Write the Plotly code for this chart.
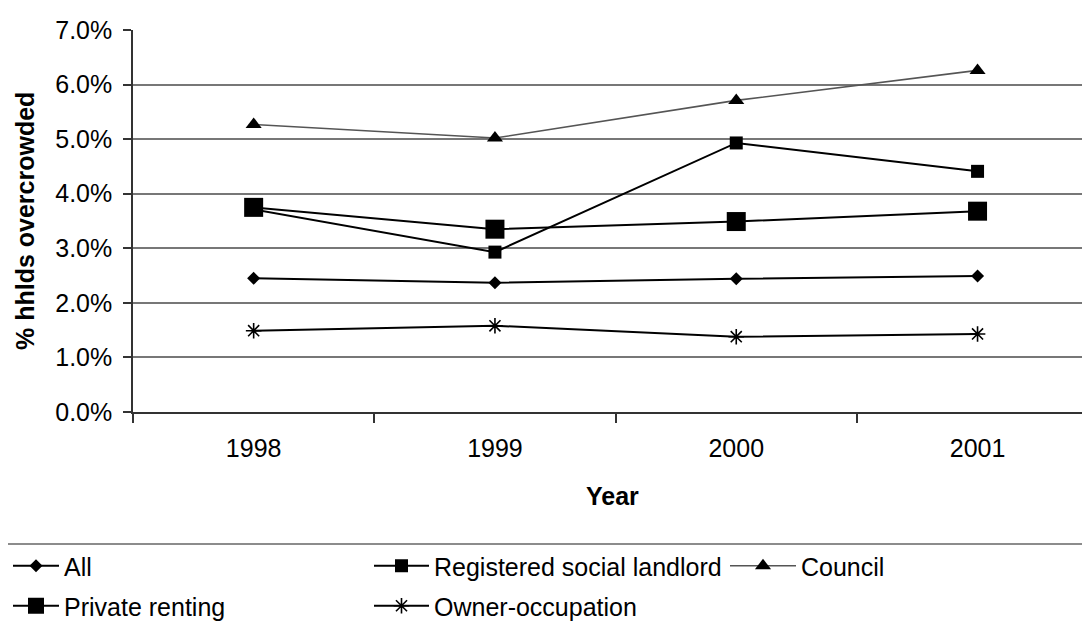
import plotly.graph_objects as go

years = ["1998", "1999", "2000", "2001"]
all_hh = [2.45, 2.37, 2.44, 2.49]
rsl = [3.71, 2.93, 4.93, 4.41]
council = [5.27, 5.02, 5.71, 6.26]
private = [3.75, 3.35, 3.49, 3.68]
owner = [1.49, 1.58, 1.38, 1.43]

y_ticks = [0, 1, 2, 3, 4, 5, 6, 7]

FONT = "Liberation Sans, Arial, sans-serif"
# the page body adds an 8px offset; figure is sized to end at the window edge
OFF = 8
W, H = 1090 - OFF, 628 - OFF
L, R, T, B = 133 - OFF, 0, 30 - OFF, 216
PW = W - L - R
PH = H - T - B

series = [
    ("All", all_hh, "#000000", 2, dict(symbol="diamond", size=10, color="#000000"), "legend"),
    ("Registered social landlord", rsl, "#000000", 2, dict(symbol="square", size=13, color="#000000"), "legend2"),
    ("Council", council, "#555555", 1.6, dict(symbol="triangle-up", size=14, color="#000000"), "legend3"),
    ("Private renting", private, "#000000", 2, dict(symbol="square", size=19, color="#000000"), "legend4"),
    ("Owner-occupation", owner, "#000000", 2,
     dict(symbol="asterisk-open", size=13, color="#000000", line=dict(color="#000000", width=1.6)), "legend5"),
]

fig = go.Figure()
for name, vals, lc, lw, mk, lg in series:
    fig.add_trace(go.Scatter(
        x=years, y=[v / 100 for v in vals], name=name, mode="lines+markers",
        line=dict(color=lc, width=lw), marker=mk, legend=lg,
    ))

cat_w = 241.3
x_end = -0.5 + PW / cat_w

def px_x(x):  # figure px -> paper x
    return (x - L) / PW

def px_y(y):  # figure px -> paper y
    return 1 - (y - T) / PH

fig.update_layout(
    width=W, height=H, showlegend=True,
    margin=dict(l=L, r=R, t=T, b=B, autoexpand=False),
    paper_bgcolor="white", plot_bgcolor="white",
    font=dict(family=FONT, size=25, color="#000000"),
    xaxis=dict(
        type="category", range=[-0.5, x_end], tickson="boundaries",
        ticks="outside", ticklen=9, tickcolor="#333333", tickwidth=1.5,
        showline=True, linecolor="#333333", linewidth=1.5,
        showgrid=False, zeroline=False, ticklabelstandoff=13,
        tickfont=dict(size=25),
    ),
    yaxis=dict(
        range=[0, 0.07], tickvals=[v / 100 for v in y_ticks], tickformat=".1%",
        ticks="outside", ticklen=8, tickcolor="#333333", tickwidth=1.5,
        showline=True, linecolor="#333333", linewidth=1.5,
        showgrid=True, gridcolor="#777777", gridwidth=1.5, zeroline=False,
        ticklabelstandoff=6, tickfont=dict(size=25),
    ),
    annotations=[
        dict(text="<b>% hhlds overcrowded</b>", xref="paper", yref="paper",
             x=px_x(25 - OFF), y=0.5, textangle=-90, showarrow=False,
             xanchor="center", yanchor="middle", font=dict(size=25)),
        dict(text="<b>Year</b>", xref="paper", yref="paper",
             x=px_x(612 - OFF), y=px_y(496 - OFF), showarrow=False,
             xanchor="center", yanchor="middle", font=dict(size=25)),
    ],
    shapes=[dict(
        type="line", xref="paper", yref="paper",
        x0=px_x(-20), x1=1.0,
        y0=px_y(544 - OFF), y1=px_y(544 - OFF),
        line=dict(color="#666666", width=1.5),
    )],
)

leg_common = dict(xref="container", yref="container", xanchor="left", yanchor="middle",
                  bgcolor="rgba(0,0,0,0)", borderwidth=0,
                  font=dict(family=FONT, size=25, color="#000000"))
row1 = 1 - (566 - OFF) / H
row2 = 1 - (606 - OFF) / H
fig.update_layout(
    legend=dict(x=0, y=row1, itemwidth=46, **leg_common),
    legend2=dict(x=(369 - OFF) / W, y=row1, itemwidth=55, **leg_common),
    legend3=dict(x=(725 - OFF) / W, y=row1, itemwidth=66, **leg_common),
    legend4=dict(x=0, y=row2, itemwidth=46, **leg_common),
    legend5=dict(x=(369 - OFF) / W, y=row2, itemwidth=55, **leg_common),
)

fig.write_html("out.html")
